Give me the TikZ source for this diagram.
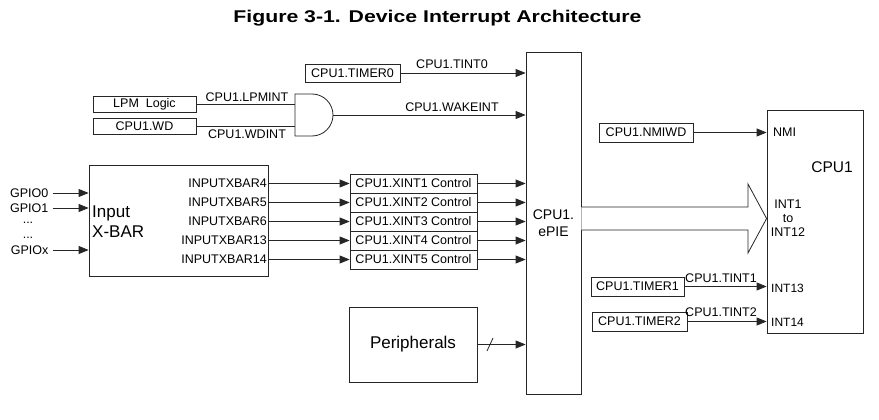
\documentclass[tikz,border=0pt]{standalone}
\usepackage{fontspec}
\setmainfont{Liberation Sans}
\newfontfamily\titlefont[FakeStretch=1.25]{Liberation Sans}
\usetikzlibrary{arrows.meta}
\begin{document}
\begin{tikzpicture}[x=1pt,y=-1pt,
  box/.style={draw=black!85,line width=0.8pt,inner sep=0pt,font=\fontsize{12.5}{14}\selectfont},
  lbl/.style={inner sep=0pt,font=\fontsize{12.5}{14}\selectfont},
  big/.style={inner sep=0pt,font=\fontsize{17}{20}\selectfont},
  arr/.style={draw=black!85,line width=0.8pt,-{Triangle[length=10pt,width=8pt]}},
  ln/.style={draw=black!85,line width=0.8pt}]
\useasboundingbox (0,0) rectangle (879,420);
% title
\node[inner sep=0pt,font=\titlefont\bfseries\fontsize{17}{20}\selectfont] (title) at (437.5,18) {Figure 3-1. Device Interrupt Architecture};
% ePIE
\node[draw=black!85,line width=0.8pt,minimum width=55pt,minimum height=342pt,inner sep=0pt,align=center,font=\fontsize{14}{17}\selectfont] (epie) at (553.5,223) {CPU1.\\ePIE};
% CPU1
\node[draw=black!85,line width=0.8pt,minimum width=96pt,minimum height=223pt,inner sep=0pt] (cpu) at (815,221.5) {};
\node[inner sep=0pt,font=\fontsize{15.5}{18}\selectfont] (cpulbl) at (832,167) {CPU1};
\node[lbl,anchor=west] (nmi) at (773,132) {NMI};
\node[lbl,align=center,font=\fontsize{12.5}{14}\selectfont] (int112) at (788,218.5) {INT1\\to\\INT12};
\node[lbl,anchor=west,font=\fontsize{12}{14}\selectfont] (int13) at (771,288) {INT13};
\node[lbl,anchor=west,font=\fontsize{12}{14}\selectfont] (int14) at (771,322) {INT14};
% big arrow
\draw[ln,fill=white] (epie.east |- 0,207) -- (748,207) -- (748,184) -- (cpu.west |- 0,218.5) -- (748,253) -- (748,230) -- (epie.east |- 0,230);
% timers to CPU
\node[box,minimum width=94pt,minimum height=19pt] (nmiwd) at (646,132.5) {CPU1.NMIWD};
\draw[arr] (nmiwd.east) -- (nmiwd.east -| cpu.west);
\node[box,minimum width=93pt,minimum height=19pt] (t1) at (637.5,286.5) {CPU1.TIMER1};
\draw[arr] (t1.east) -- (t1.east -| cpu.west);
\node[lbl] (tint1) at (721,278) {CPU1.TINT1};
\node[box,minimum width=95pt,minimum height=19pt] (t2) at (639.5,321.5) {CPU1.TIMER2};
\draw[arr] (t2.east) -- (t2.east -| cpu.west);
\node[lbl] (tint2) at (721,312) {CPU1.TINT2};
% timer0
\node[box,minimum width=95pt,minimum height=18pt] (t0) at (352.5,73) {CPU1.TIMER0};
\draw[arr] (t0.east) -- (t0.east -| epie.west);
\node[lbl] (tint0) at (452,64) {CPU1.TINT0};
% LPM / WD and gate
\node[box,minimum width=103pt,minimum height=16pt] (lpm) at (144.5,104) {LPM\ \ Logic};
\node[box,minimum width=103pt,minimum height=16pt] (wd) at (144.5,126) {CPU1.WD};
\draw[ln] (295,94) -- (312,94) arc[start angle=-90,end angle=90,radius=21] -- (295,136) -- cycle;
\coordinate (gin1) at (295,104);
\coordinate (gin2) at (295,126);
\coordinate (gout) at (333,115);
\draw[ln] (lpm.east) -- (gin1);
\draw[ln] (wd.east) -- (gin2);
\node[lbl] (lpmint) at (247,97) {CPU1.LPMINT};
\node[lbl] (wdint) at (247,134) {CPU1.WDINT};
\draw[arr] (gout) -- (gout -| epie.west);
\node[lbl] (wake) at (452,107) {CPU1.WAKEINT};
% Input X-BAR
\node[draw=black!85,line width=0.8pt,minimum width=179pt,minimum height=111pt,inner sep=0pt] (xbar) at (178.5,220.5) {};
\node[big,anchor=west,align=left] (xbarlbl) at (92,222) {Input\\X-BAR};
\node[lbl,anchor=east] (g0) at (48.5,193) {GPIO0};
\node[lbl,anchor=east] (g1) at (48.5,208) {GPIO1};
\node[lbl,anchor=base] (d1) at (28,223) {...};
\node[lbl,anchor=base] (d2) at (28,238) {...};
\node[lbl,anchor=east] (gx) at (48.5,250) {GPIOx};
\foreach \g in {g0,g1,gx}{
  \draw[arr,shorten <=4pt] (\g.east) -- (\g.east -| xbar.west);
}
\foreach \i/\n/\y in {1/4/183.5,2/5/202.5,3/6/221.5,4/13/240.5,5/14/259.5}{
  \node[box,minimum width=127pt,minimum height=19pt] (x\i) at (413.5,\y) {CPU1.XINT\i{} Control};
  \node[lbl,anchor=east] (ib\i) at (267,\y) {INPUTXBAR\n};
  \draw[arr] (ib\i.east -| xbar.east) -- (x\i.west);
  \draw[arr] (x\i.east) -- (x\i.east -| epie.west);
}
% Peripherals
\node[box,minimum width=128pt,minimum height=75pt,font=\fontsize{17}{20}\selectfont] (per) at (413,344.5) {Peripherals};
\draw[arr] (per.east) -- (per.east -| epie.west);
\draw[ln] (487,351) -- (493,338);
\end{tikzpicture}
\end{document}
